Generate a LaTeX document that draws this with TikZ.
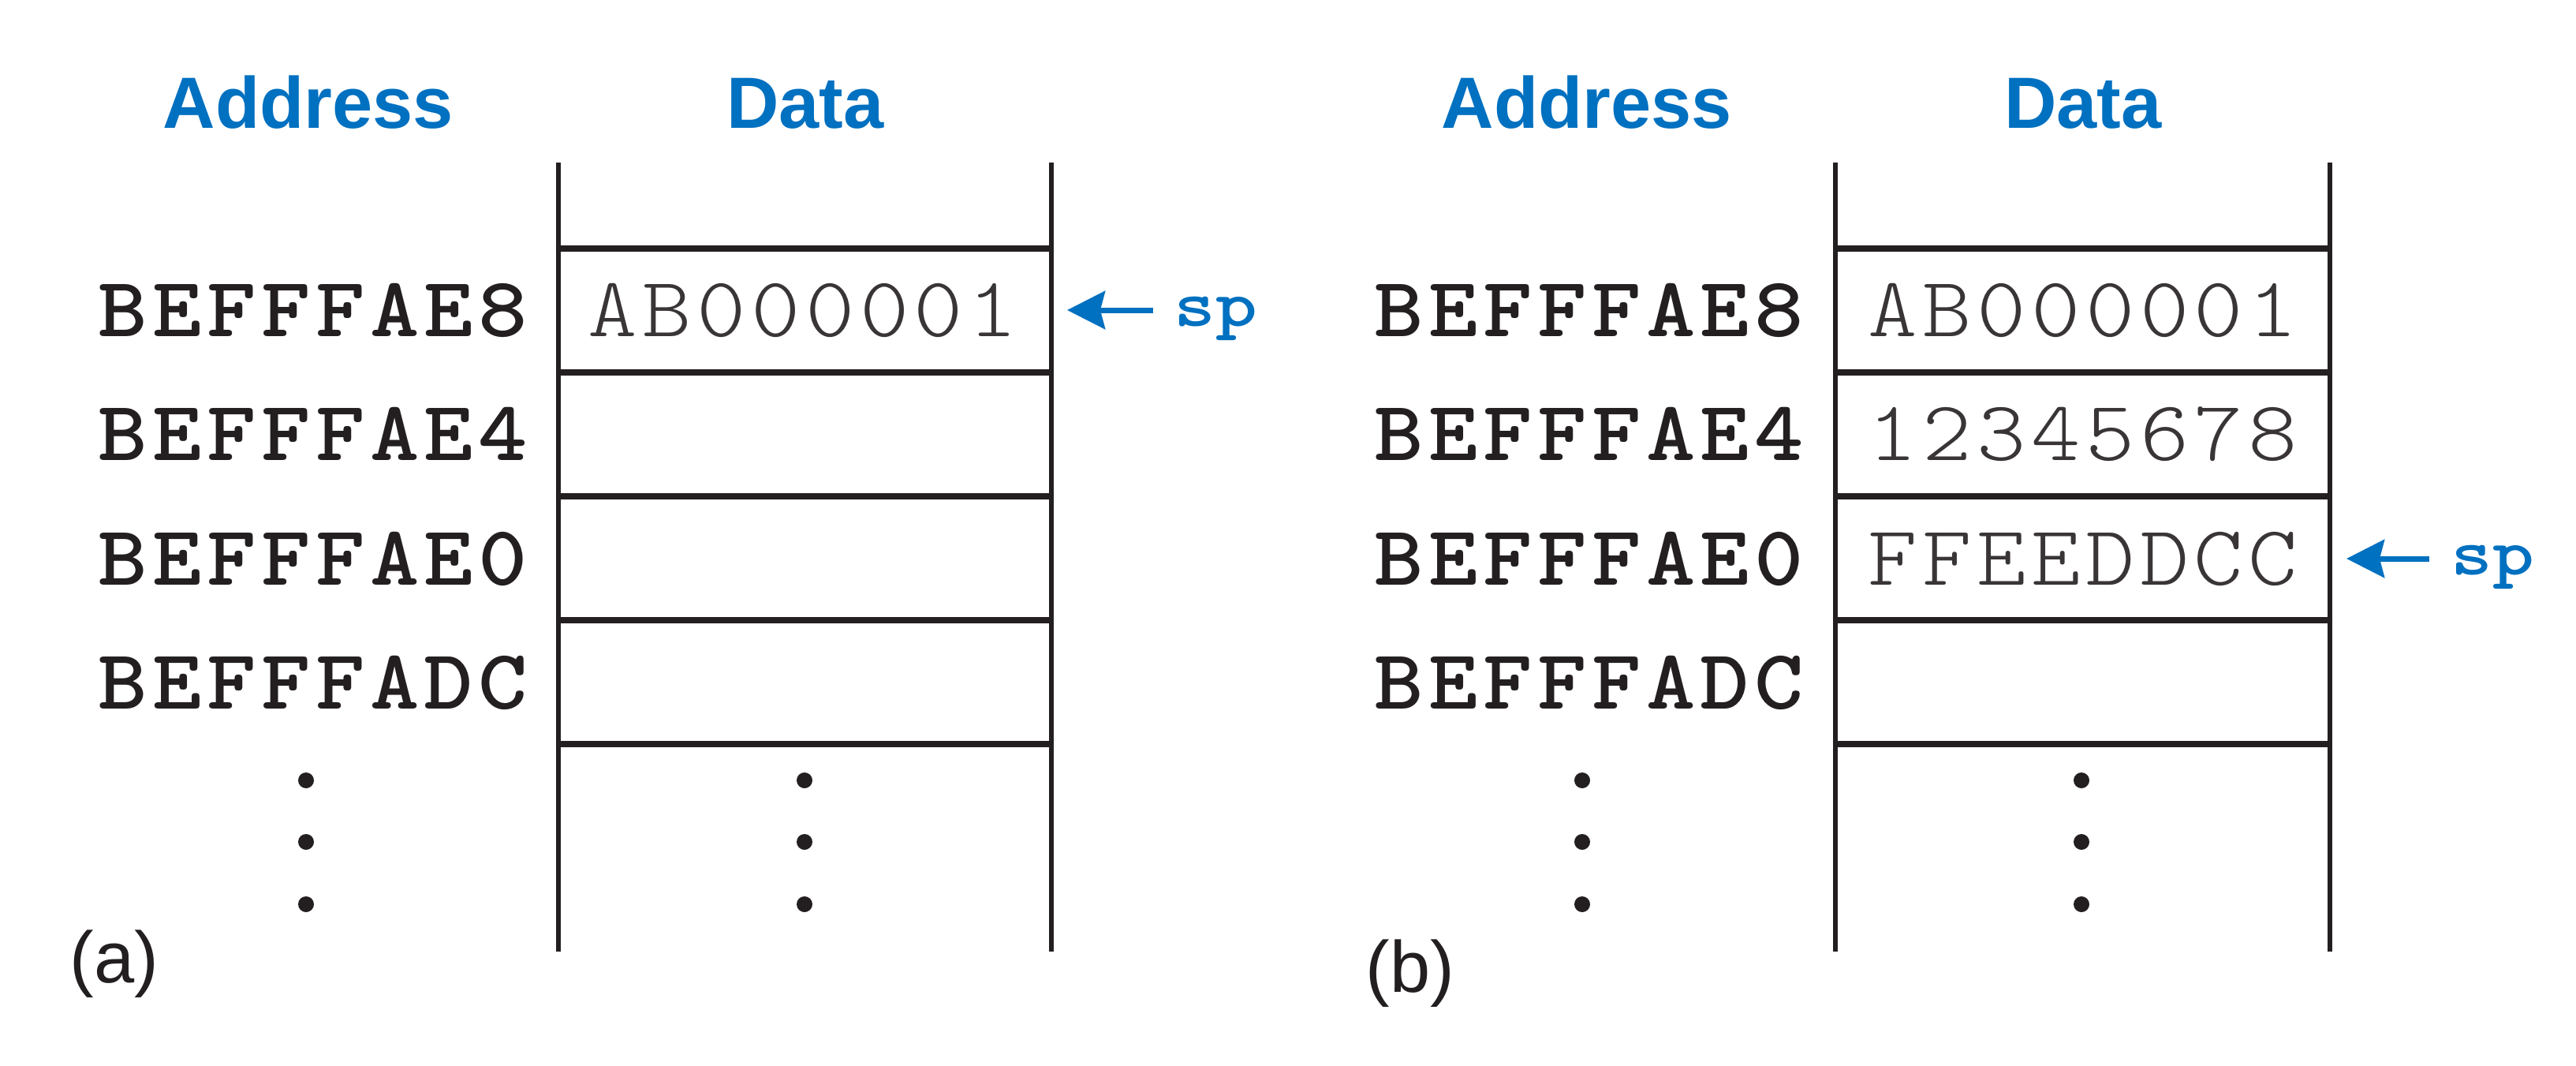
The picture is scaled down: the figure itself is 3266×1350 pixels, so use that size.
\documentclass[tikz,border=0pt]{standalone}
\usepackage{fontspec}
\usetikzlibrary{arrows.meta}
\newfontfamily\addrfnt{lmmonolt10-bold.otf}[FakeStretch=1.1,LetterSpace=6]
\newfontfamily\datafnt{lmmonolt10-regular.otf}[FakeStretch=1.1,LetterSpace=6]
\newfontfamily\spfnt{lmmonolt10-bold.otf}[FakeStretch=1.2]
\newfontfamily\sansfnt{Liberation Sans}
\definecolor{hdblue}{RGB}{0,112,192}
\definecolor{inkk}{RGB}{35,31,32}
\tikzset{
  px/.style={x=0.25pt,y=-0.25pt},
  header/.style={font=\sansfnt\bfseries\fontsize{23}{23}\selectfont, text=hdblue, inner sep=0pt, anchor=base},
  addr/.style={font=\addrfnt\fontsize{27}{27}\selectfont, text=inkk, inner sep=0pt, anchor=east},
  datum/.style={font=\datafnt\fontsize{27}{27}\selectfont, text=inkk!90, inner sep=0pt, anchor=center},
  spl/.style={font=\spfnt\fontsize{21}{21}\selectfont, text=hdblue, inner sep=0pt, anchor=base west},
  panel/.style={font=\sansfnt\fontsize{23}{23}\selectfont, text=inkk, inner sep=0pt, anchor=center},
  vline/.style={draw=inkk, line width=1.6pt},
  hline/.style={draw=inkk, line width=2.1pt},
  sparrow/.style={draw=hdblue, line width=1.75pt, -{Stealth[length=12pt,width=12pt,inset=1.5pt]}},
  dotf/.style={fill=inkk}
}
\begin{document}
\begin{tikzpicture}[px]
\useasboundingbox (0,0) rectangle (3266,1350);

% ---------- panel (a) ----------
\node[header] (hAa) at (391,162) {Address};
\node[header] (hDa) at (1021,162) {Data};
\draw[vline] (708,206) -- (708,1206);
\draw[vline] (1333,206) -- (1333,1206);
\foreach \y in {315,472,629,786,943} \draw[hline] (708,\y) -- (1333,\y);
\node[addr] (a1) at (670,393) {BEFFFAE8};
\node[addr] (a2) at (670,550) {BEFFFAE4};
\node[addr] (a3) at (670,708) {BEFFFAE0};
\node[addr] (a4) at (670,865) {BEFFFADC};
\node[datum] (d1) at (1018,393) {AB000001};
\coordinate (tA) at (1353,393);
\coordinate (sA) at (1462,393);
\node[spl] (spA) at (1488,413) {sp};
\draw[sparrow] (sA) -- (tA);
\foreach \y in {989,1067,1146} {
  \fill[dotf] (388,\y) circle (10);
  \fill[dotf] (1020,\y) circle (10);
}
\node[panel] (la) at (145,1222) {(a)};

% ---------- panel (b) ----------
\node[header] (hAb) at (2012,162) {Address};
\node[header] (hDb) at (2641,162) {Data};
\draw[vline] (2327,206) -- (2327,1206);
\draw[vline] (2954,206) -- (2954,1206);
\foreach \y in {315,472,629,786,943} \draw[hline] (2327,\y) -- (2954,\y);
\node[addr] (b1) at (2288,393) {BEFFFAE8};
\node[addr] (b2) at (2288,550) {BEFFFAE4};
\node[addr] (b3) at (2288,708) {BEFFFAE0};
\node[addr] (b4) at (2288,865) {BEFFFADC};
\node[datum] (e1) at (2641,393) {AB000001};
\node[datum] (e2) at (2641,550) {12345678};
\node[datum] (e3) at (2641,708) {FFEEDDCC};
\coordinate (tB) at (2975,708);
\coordinate (sB) at (3080,708);
\node[spl] (spB) at (3107,728) {sp};
\draw[sparrow] (sB) -- (tB);
\foreach \y in {989,1067,1146} {
  \fill[dotf] (2006,\y) circle (10);
  \fill[dotf] (2639,\y) circle (10);
}
\node[panel] (lb) at (1788,1234) {(b)};
\end{tikzpicture}
\end{document}
